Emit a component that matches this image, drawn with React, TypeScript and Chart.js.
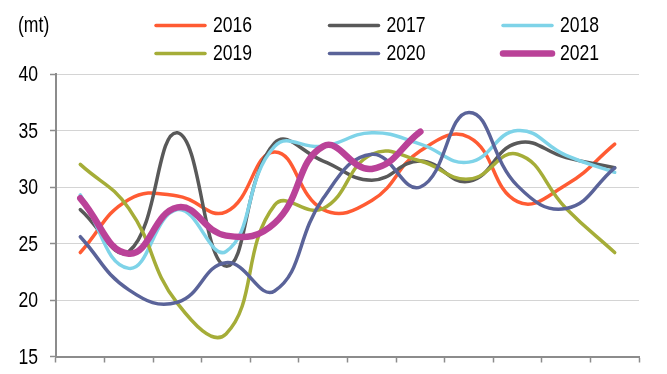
import React, { useEffect, useRef } from "react";
import { Chart, registerables } from "chart.js";

Chart.register(...registerables);

const months = ["Jan", "Feb", "Mar", "Apr", "May", "Jun", "Jul", "Aug", "Sep", "Oct", "Nov", "Dec"];
const yearLabels = ["2016", "2017", "2018", "2019", "2020", "2021"];
const s2016 = [24.2, 28.9, 29.2, 27.8, 33.1, 28.0, 28.8, 33.2, 34.4, 28.7, 30.2, 33.8];
const s2017 = [28.0, 24.3, 34.8, 23.0, 33.9, 32.3, 30.6, 32.3, 30.5, 33.9, 32.6, 31.7];
const s2018 = [29.3, 22.8, 28.0, 24.3, 33.6, 33.6, 34.8, 33.8, 32.2, 35.0, 32.8, 31.3];
const s2019 = [32.0, 28.1, 19.7, 17.0, 28.4, 28.1, 32.9, 32.3, 30.7, 32.9, 28.1, 24.2];
const s2020 = [25.6, 20.9, 19.8, 23.3, 20.8, 29.0, 32.9, 30.0, 36.6, 30.1, 28.1, 31.7];
const s2021 = [29.0, 24.1, 28.2, 25.7, 26.8, 33.6, 31.6, 34.9, null, null, null, null];
const yTicks = [15, 20, 25, 30, 35, 40];
const unitLabel = "(mt)";

const seriesValues = [s2016, s2017, s2018, s2019, s2020, s2021];
const colors = ["#FF5B33", "#595959", "#7ED3E8", "#A5AD38", "#5A6399", "#BA4298"];
const widths = [3.5, 3.5, 3.5, 3.5, 3.5, 6.5];

const FONT = "'Liberation Sans', Arial, sans-serif";
const FONT_SIZE = 22;
const SQUEEZE = 0.8;

function narrowText(ctx: any, text: string, x: number, y: number, align: "left" | "right") {
  ctx.save();
  ctx.translate(x, y);
  ctx.scale(SQUEEZE, 1);
  ctx.textAlign = align;
  ctx.textBaseline = "middle";
  ctx.fillText(text, 0, 0);
  ctx.restore();
}

const customText = {
  id: "customText",
  afterDraw(chart: any) {
    const ctx = chart.ctx;
    ctx.save();
    ctx.font = `${FONT_SIZE}px ${FONT}`;
    ctx.fillStyle = "#000";
    narrowText(ctx, unitLabel, 18, 26, "left");
    const yScale = chart.scales.y;
    yTicks.forEach((v) => {
      narrowText(ctx, String(v), yScale.right - 18, yScale.getPixelForValue(v) + 1, "right");
    });
    chart.data.datasets.forEach((ds: any, i: number) => {
      const col = i % 3;
      const row = Math.floor(i / 3);
      const tx = 213 + col * 173.5;
      const ty = 25.5 + row * 28;
      ctx.beginPath();
      ctx.lineCap = "round";
      ctx.strokeStyle = ds.borderColor;
      ctx.lineWidth = ds.borderWidth;
      ctx.moveTo(tx - 57, ty);
      ctx.lineTo(tx - 8, ty);
      ctx.stroke();
      ctx.fillStyle = "#000";
      narrowText(ctx, ds.label, tx, ty + 0.5, "left");
    });
    ctx.restore();
  },
};

export default function App() {
  const ref = useRef<HTMLCanvasElement>(null);
  useEffect(() => {
    if (!ref.current) return;
    const chart = new Chart(ref.current, {
      type: "line",
      data: {
        labels: months,
        datasets: seriesValues.map((vals, i) => ({
          label: yearLabels[i],
          data: vals,
          borderColor: colors[i],
          backgroundColor: colors[i],
          borderWidth: widths[i],
          pointRadius: 0,
          pointHoverRadius: 0,
          tension: 0.45,
          borderCapStyle: "round",
          borderJoinStyle: "round",
          spanGaps: false,
          fill: false,
          order: 5 - i,
        })),
      },
      options: {
        animation: false,
        responsive: false,
        events: [],
        layout: { padding: { top: 74, right: 28, bottom: 11.5, left: 0 } },
        plugins: { legend: { display: false }, tooltip: { enabled: false }, title: { display: false } },
        scales: {
          x: {
            offset: true,
            grid: {
              offset: true,
              display: true,
              drawOnChartArea: false,
              drawTicks: true,
              tickLength: 6,
              tickColor: "#8C8C8C",
              tickWidth: 1.5,
            },
            border: { display: true, color: "#8C8C8C", width: 2 },
            ticks: { display: false },
          },
          y: {
            min: 15,
            max: 40,
            afterBuildTicks(scale: any) {
              scale.ticks = yTicks.map((v) => ({ value: v }));
            },
            afterFit(scale: any) {
              scale.width = 56;
            },
            grid: {
              color: "#D4D4D4",
              lineWidth: 1,
              borderDash: [2, 2],
              drawTicks: true,
              tickLength: 6,
              tickColor: "#8C8C8C",
              tickWidth: 1.5,
              tickBorderDash: [],
            },
            border: { display: true, color: "#8C8C8C", width: 2 },
            ticks: { display: false },
          },
        },
      },
      plugins: [customText],
    });
    return () => chart.destroy();
  }, []);
  return (
    <div style={{ position: "fixed", left: 0, top: 0, width: 667, height: 374, background: "#fff" }}>
      <canvas ref={ref} width={667} height={374} style={{ display: "block" }} />
    </div>
  );
}
